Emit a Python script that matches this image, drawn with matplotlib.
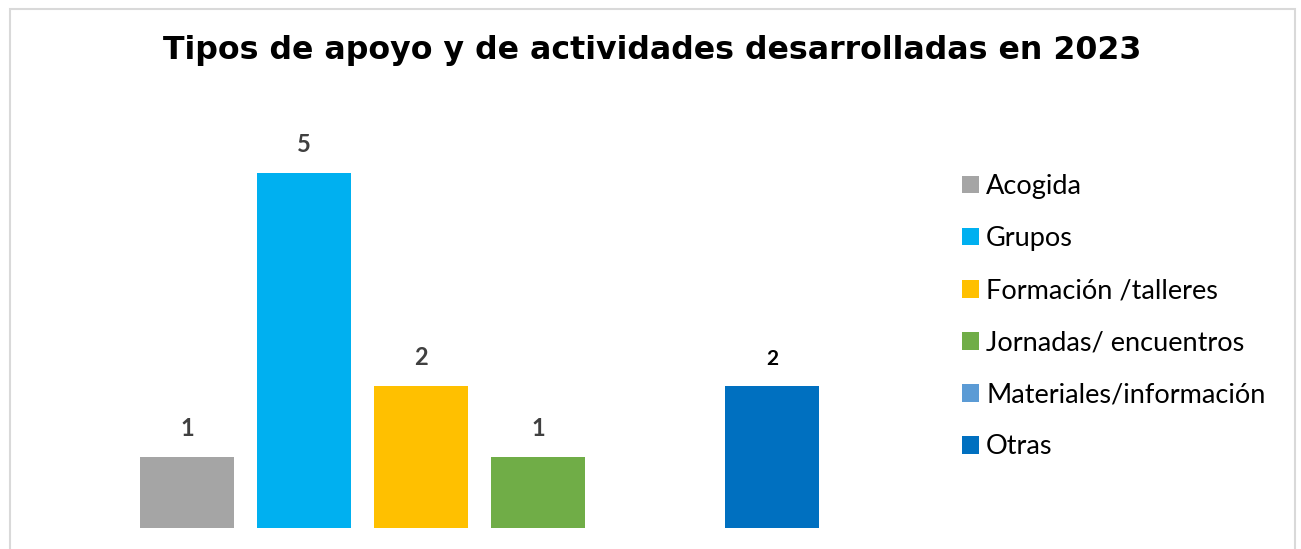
import matplotlib
matplotlib.use('Agg')
import matplotlib.pyplot as plt
from matplotlib.patches import Rectangle

# data
categories = ['Acogida', 'Grupos', 'Formación /talleres', 'Jornadas/ encuentros',
              'Materiales/información', 'Otras']
values = [1, 5, 2, 1, 0, 2]
colors = ['#a5a5a5', '#00b0f0', '#ffc000', '#70ad47', '#5b9bd5', '#0070c0']

W, H, DPI = 1301, 549, 100
fig = plt.figure(figsize=(W / DPI, H / DPI), dpi=DPI)

# light frame round the chart area
fig.patches.append(Rectangle((10 / W, -0.05), 1285 / W, (H - 9) / H + 0.05,
                             transform=fig.transFigure, fill=False,
                             edgecolor='#d9d9d9', linewidth=1.5))

# axes placed in pixels: left 128.5, width 702, bottom 21, height 428
ax = fig.add_axes([128.5 / W, 21 / H, 702 / W, 428 / H])
x = list(range(len(categories)))
bars = ax.bar(x, values, width=0.795, color=colors, label=categories)
ax.set_xlim(-0.5, len(categories) - 0.5)
ax.set_ylim(0, 428 / 71)
ax.axis('off')

for i, (xi, v) in enumerate(zip(x, values)):
    if v == 0:
        continue
    last = i == len(values) - 1
    ax.annotate(str(v), (xi, v), xytext=(0, 12), textcoords='offset points',
                ha='center', va='bottom', fontweight='bold', family='Lato',
                fontsize=15 if last else 17,
                color='black' if last else '#404040')

fig.text(652 / W, 1 - 51 / H, 'Tipos de apoyo y de actividades desarrolladas en 2023',
         ha='center', va='center', fontsize=22.8, fontweight='bold',
         family='DejaVu Sans', color='black')

leg = fig.legend(handles=bars, labels=categories, loc='upper left',
                 bbox_to_anchor=(962 / W, 1 - 174 / H), frameon=False,
                 prop={'family': 'Lato', 'size': 19.5},
                 handlelength=0.63, handleheight=0.63, handletextpad=0.26,
                 labelspacing=1.0, borderpad=0, borderaxespad=0)

fig.savefig('out.png', dpi=DPI)
